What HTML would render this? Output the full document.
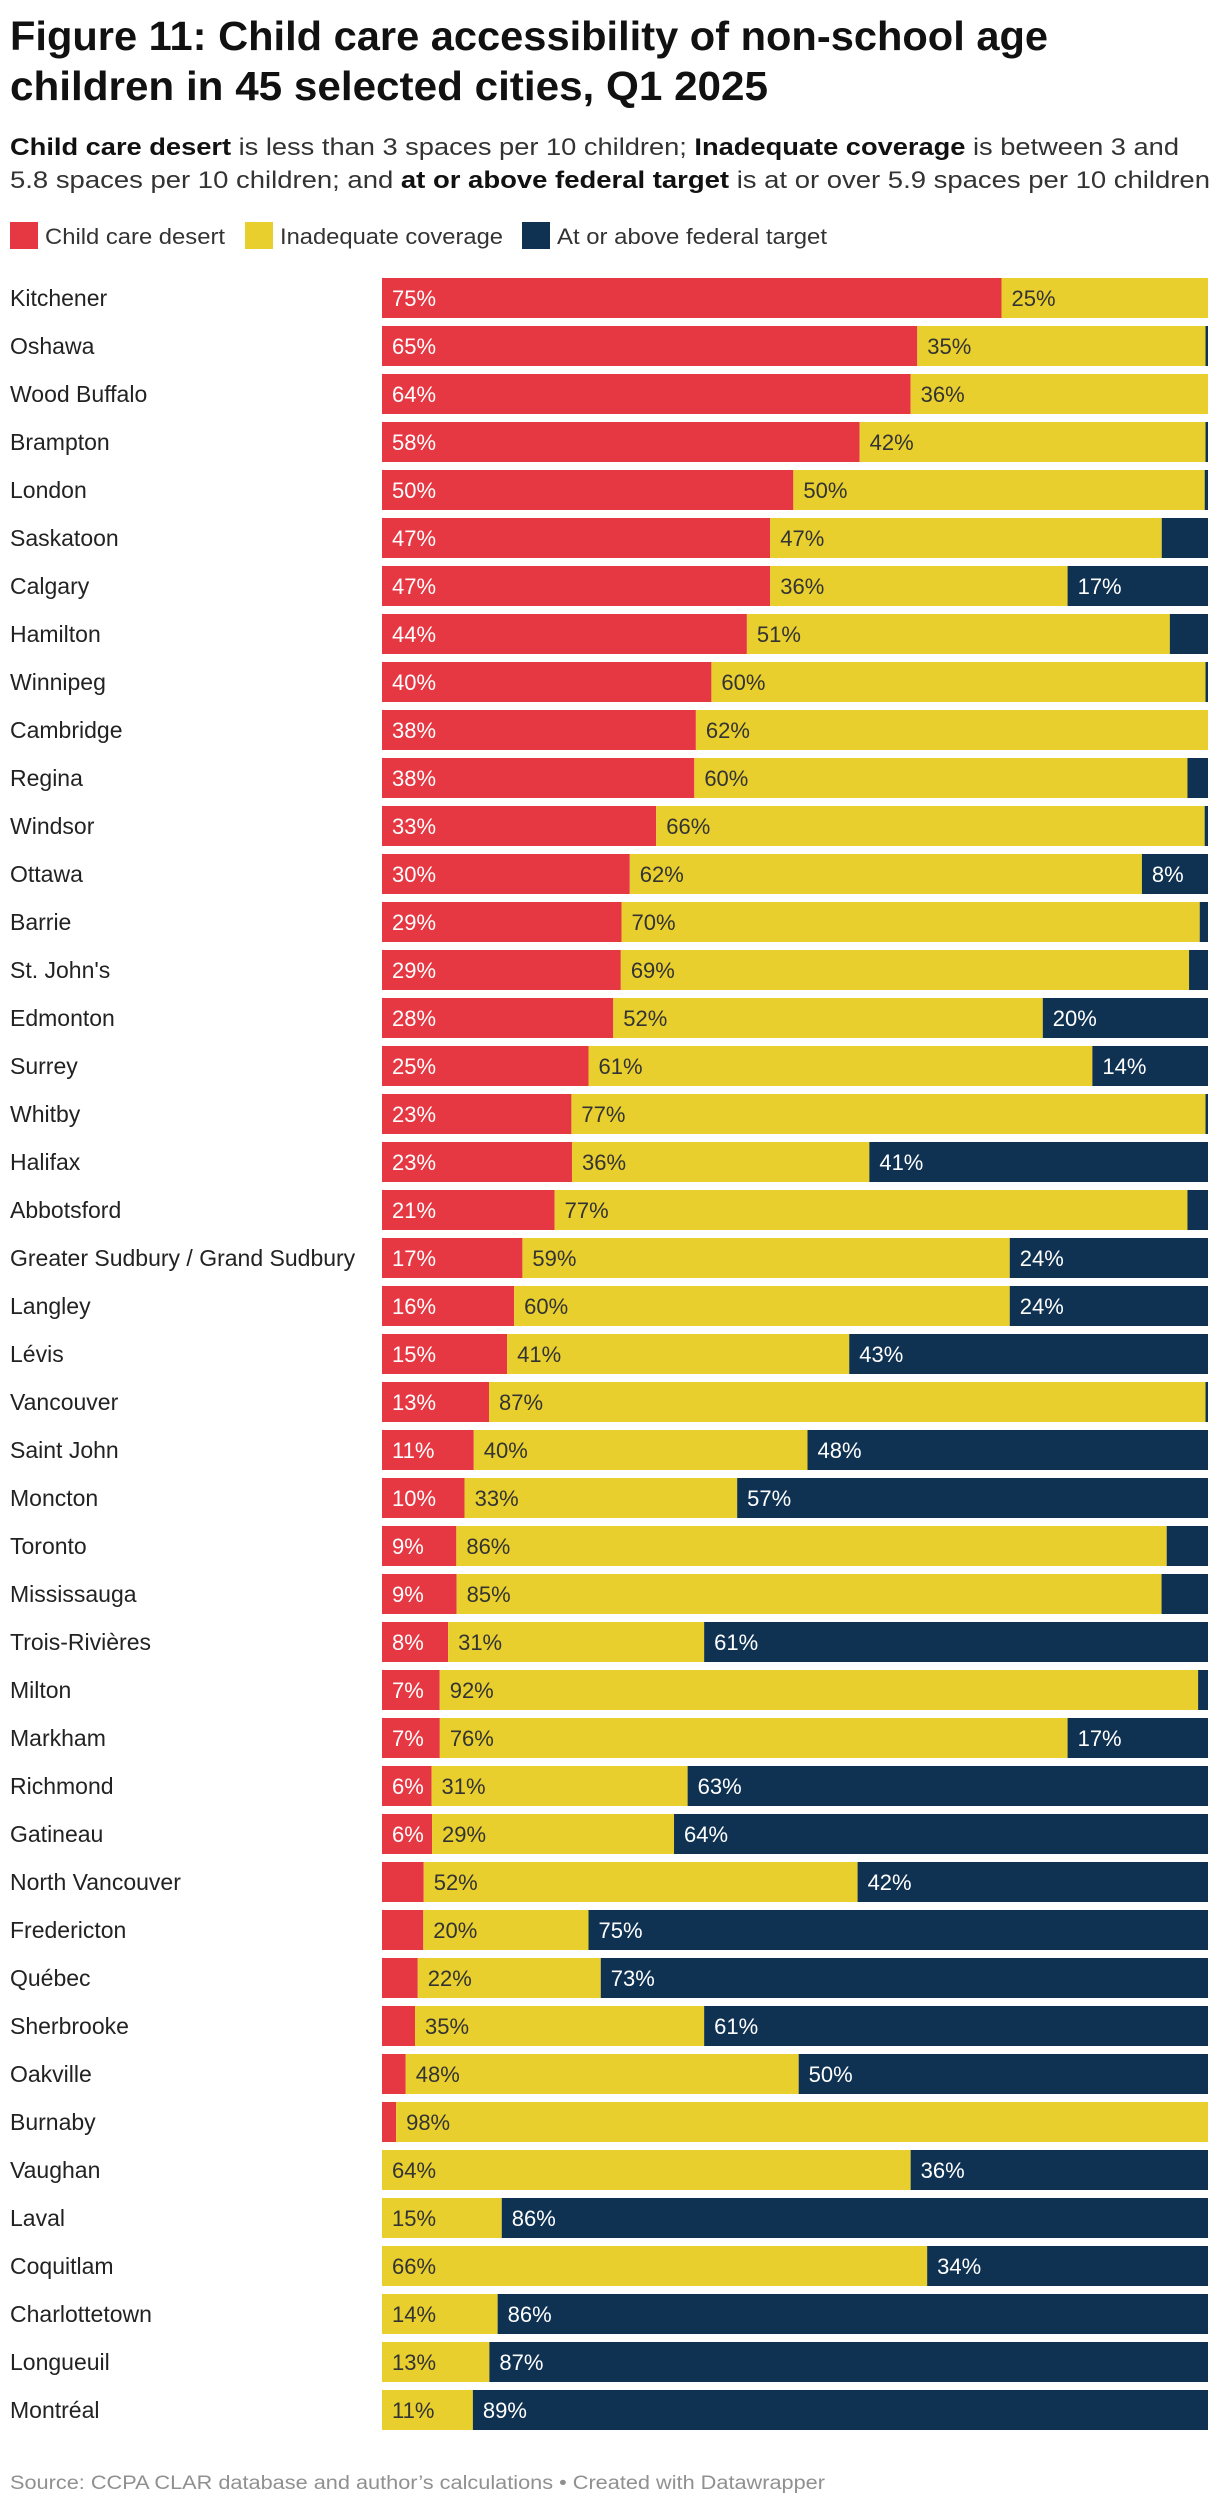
<!DOCTYPE html>
<html><head><meta charset="utf-8">
<style>
html,body{margin:0;padding:0;background:#fff;}
body{width:1220px;height:2506px;position:relative;font-family:"Liberation Sans",Arial,sans-serif;overflow:hidden;}
svg{position:absolute;left:0;top:0;font-family:"Liberation Sans",Arial,sans-serif;}
</style></head><body>
<svg id="chart" width="1220" height="2506">
<g font-weight="bold" font-size="41" fill="#111">
<text x="10" y="50" textLength="1038" lengthAdjust="spacingAndGlyphs">Figure 11: Child care accessibility of non-school age</text>
<text x="10" y="100" textLength="758" lengthAdjust="spacingAndGlyphs">children in 45 selected cities, Q1 2025</text>
</g>
<g font-size="24" fill="#333">
<text x="10" y="155" textLength="1169" lengthAdjust="spacingAndGlyphs"><tspan font-weight="bold" fill="#111">Child care desert</tspan> is less than 3 spaces per 10 children; <tspan font-weight="bold" fill="#111">Inadequate coverage</tspan> is between 3 and</text>
<text x="10" y="188" textLength="1200" lengthAdjust="spacingAndGlyphs">5.8 spaces per 10 children; and <tspan font-weight="bold" fill="#111">at or above federal target</tspan> is at or over 5.9 spaces per 10 children</text>
</g>
<g font-size="22" fill="#333">
<g><rect x="10" y="222" width="28" height="27" fill="#E63843"/><text x="45" y="244" textLength="180" lengthAdjust="spacingAndGlyphs">Child care desert</text></g>
<g><rect x="245" y="222" width="28" height="27" fill="#E8CF2E"/><text x="280" y="244" textLength="223" lengthAdjust="spacingAndGlyphs">Inadequate coverage</text></g>
<g><rect x="522" y="222" width="28" height="27" fill="#0F3253"/><text x="557" y="244" textLength="270" lengthAdjust="spacingAndGlyphs">At or above federal target</text></g>
</g>
<g id="bars"></g>
<text x="10" y="2489" font-size="19" fill="#909090" textLength="815" lengthAdjust="spacingAndGlyphs">Source: CCPA CLAR database and author’s calculations • Created with Datawrapper</text>
</svg>
<script>
const cities=["Kitchener","Oshawa","Wood Buffalo","Brampton","London","Saskatoon","Calgary","Hamilton","Winnipeg","Cambridge","Regina","Windsor","Ottawa","Barrie","St. John's","Edmonton","Surrey","Whitby","Halifax","Abbotsford","Greater Sudbury / Grand Sudbury","Langley","Lévis","Vancouver","Saint John","Moncton","Toronto","Mississauga","Trois-Rivières","Milton","Markham","Richmond","Gatineau","North Vancouver","Fredericton","Québec","Sherbrooke","Oakville","Burnaby","Vaughan","Laval","Coquitlam","Charlottetown","Longueuil","Montréal"];
const desert=[75,65,64,58,50,47,47,44,40,38,38,33,30,29,29,28,25,23,23,21,17,16,15,13,11,10,9,9,8,7,7,6,6,5,5,4.3,4,2.9,1.7,0,0,0,0,0,0];
const inadequate=[25,35,36,42,50,47.4,36,51,60,62,60,66,62,70,69,52,61,77,36,77,59,60,41,87,40,33,86,85,31,92,76,31,29,52,20,22,35,48,98,64,14.5,66,14,13,11];
const target=[0,0.3,0,0.3,0.4,5.6,17,4.6,0.3,0,2.5,0.4,8,1,2.3,20,14,0.3,41,2.5,24,24,43,0.3,48,57,5,5.6,61,1.2,17,63,64,42,75,73,61,50,0,36,85.5,34,86,87,89];
const NS="http://www.w3.org/2000/svg";
const g=document.getElementById('bars');
const X0=382,X1=1208,Y0=278,STEP=48,BH=40;
function xs(v,tot){return (X1-X0)*v/tot;}
function yb(i){return Y0+i*STEP;}
const series=[{d:desert,c:"#E63843",t:"#fff",n:"desert"},{d:inadequate,c:"#E8CF2E",t:"#333",n:"inadequate"},{d:target,c:"#0F3253",t:"#fff",n:"target"}];
cities.forEach((city,i)=>{
  const lab=document.createElementNS(NS,'text');
  
  
  lab.setAttribute('x',10);lab.setAttribute('y',yb(i)+BH/2+8);
  lab.setAttribute('font-size','23');lab.setAttribute('fill','#222');
  lab.textContent=city;g.appendChild(lab);
  const tot=desert[i]+inadequate[i]+target[i];
  let x=X0;
  series.forEach(s=>{
    const v=s.d[i];if(v<=0)return;
    const w=xs(v,tot);
    const r=document.createElementNS(NS,'rect');
    
    
    r.setAttribute('x',x);r.setAttribute('y',yb(i));r.setAttribute('width',w);r.setAttribute('height',BH);r.setAttribute('fill',s.c);
    g.appendChild(r);
    if(v>=5.8){
      const t=document.createElementNS(NS,'text');
      
      
      t.setAttribute('x',x+10);t.setAttribute('y',yb(i)+BH/2+8);
      t.setAttribute('font-size','22');t.setAttribute('fill',s.t);
      t.textContent=Math.round(v)+'%';g.appendChild(t);
    }
    x+=w;
  });
});
</script>
</body></html>
